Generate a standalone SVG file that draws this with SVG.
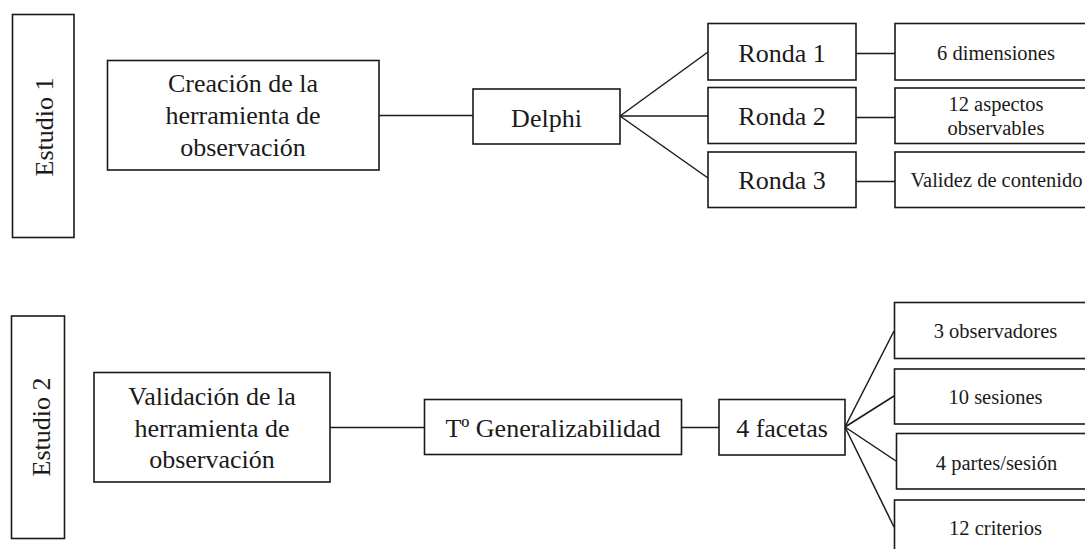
<svg xmlns="http://www.w3.org/2000/svg" width="1085" height="549" viewBox="0 0 1085 549">
<style>
.box{fill:#fff;stroke:#1a1a1a;stroke-width:1.6}
.ln{stroke:#1a1a1a;stroke-width:1.5;fill:none}
.big{font-family:"Liberation Serif","Times New Roman",serif;font-size:26px;fill:#1a1a1a;text-anchor:middle}
.sm{font-family:"Liberation Serif","Times New Roman",serif;font-size:20.5px;fill:#1a1a1a;text-anchor:middle}
</style>
<rect width="1085" height="549" fill="#fff"/>
<g id="connectors">
<line class="ln" x1="379" y1="115.5" x2="473" y2="115.5"/>
<line class="ln" x1="620" y1="116" x2="708" y2="52"/>
<line class="ln" x1="620" y1="116" x2="708" y2="116"/>
<line class="ln" x1="620" y1="116" x2="708" y2="178"/>
<line class="ln" x1="856" y1="53.5" x2="895" y2="53.5"/>
<line class="ln" x1="856" y1="117.5" x2="895" y2="117.5"/>
<line class="ln" x1="856" y1="181.5" x2="895" y2="181.5"/>
<line class="ln" x1="330" y1="427.5" x2="424" y2="427.5"/>
<line class="ln" x1="682" y1="427.5" x2="719" y2="427.5"/>
<line class="ln" x1="845" y1="427" x2="894" y2="331"/>
<line class="ln" x1="845" y1="427" x2="894" y2="396"/>
<line class="ln" x1="845" y1="427" x2="896" y2="461"/>
<line class="ln" x1="845" y1="427" x2="894" y2="527"/>
</g>
<g id="estudio1">
<rect class="box" x="12.5" y="14.5" width="61.5" height="223"/>
<text class="big" transform="translate(53,127) rotate(-90)">Estudio 1</text>
</g>
<g id="creacion">
<rect class="box" x="107.5" y="60.5" width="271.5" height="109.5"/>
<text class="big" x="243" y="92">Creación de la</text>
<text class="big" x="243" y="124">herramienta de</text>
<text class="big" x="243" y="155.5">observación</text>
</g>
<g id="delphi">
<rect class="box" x="473" y="89" width="147" height="55"/>
<text class="big" x="546.5" y="126.5">Delphi</text>
</g>
<g id="ronda1">
<rect class="box" x="708" y="23.5" width="148" height="56.5"/>
<text class="big" x="782" y="61.5">Ronda 1</text>
</g>
<g id="ronda2">
<rect class="box" x="708" y="87.5" width="148" height="56"/>
<text class="big" x="782" y="125">Ronda 2</text>
</g>
<g id="ronda3">
<rect class="box" x="708" y="152" width="148" height="55.5"/>
<text class="big" x="782" y="188.5">Ronda 3</text>
</g>
<g id="dimensiones">
<rect class="box" x="895" y="23.5" width="202" height="56.5"/>
<text class="sm" x="996" y="59.5">6 dimensiones</text>
</g>
<g id="aspectos">
<rect class="box" x="895" y="88" width="202" height="55.5"/>
<text class="sm" x="996" y="110.5">12 aspectos</text>
<text class="sm" x="996" y="135">observables</text>
</g>
<g id="validez">
<rect class="box" x="895" y="152" width="202" height="55.5"/>
<text class="sm" x="996.5" y="186.5">Validez de contenido</text>
</g>
<g id="estudio2">
<rect class="box" x="11.5" y="316" width="53" height="222.5"/>
<text class="big" transform="translate(49.5,427) rotate(-90)">Estudio 2</text>
</g>
<g id="validacion">
<rect class="box" x="94" y="372.5" width="236" height="109.5"/>
<text class="big" x="212" y="405">Validación de la</text>
<text class="big" x="212" y="436.5">herramienta de</text>
<text class="big" x="212" y="468">observación</text>
</g>
<g id="generalizabilidad">
<rect class="box" x="424.5" y="399.5" width="257" height="55"/>
<text class="big" x="553" y="436.5">Tº Generalizabilidad</text>
</g>
<g id="facetas">
<rect class="box" x="719" y="399.5" width="126" height="55.5"/>
<text class="big" x="782" y="436.5">4 facetas</text>
</g>
<g id="observadores">
<rect class="box" x="894.5" y="302.5" width="202" height="56"/>
<text class="sm" x="995.5" y="338">3 observadores</text>
</g>
<g id="sesiones">
<rect class="box" x="894.5" y="369" width="202" height="55"/>
<text class="sm" x="995.5" y="403.5">10 sesiones</text>
</g>
<g id="partes">
<rect class="box" x="896.5" y="433.5" width="202" height="55.5"/>
<text class="sm" x="996.5" y="469.5">4 partes/sesión</text>
</g>
<g id="criterios">
<rect class="box" x="894.5" y="500" width="202" height="60"/>
<text class="sm" x="995.5" y="535">12 criterios</text>
</g>
</svg>
